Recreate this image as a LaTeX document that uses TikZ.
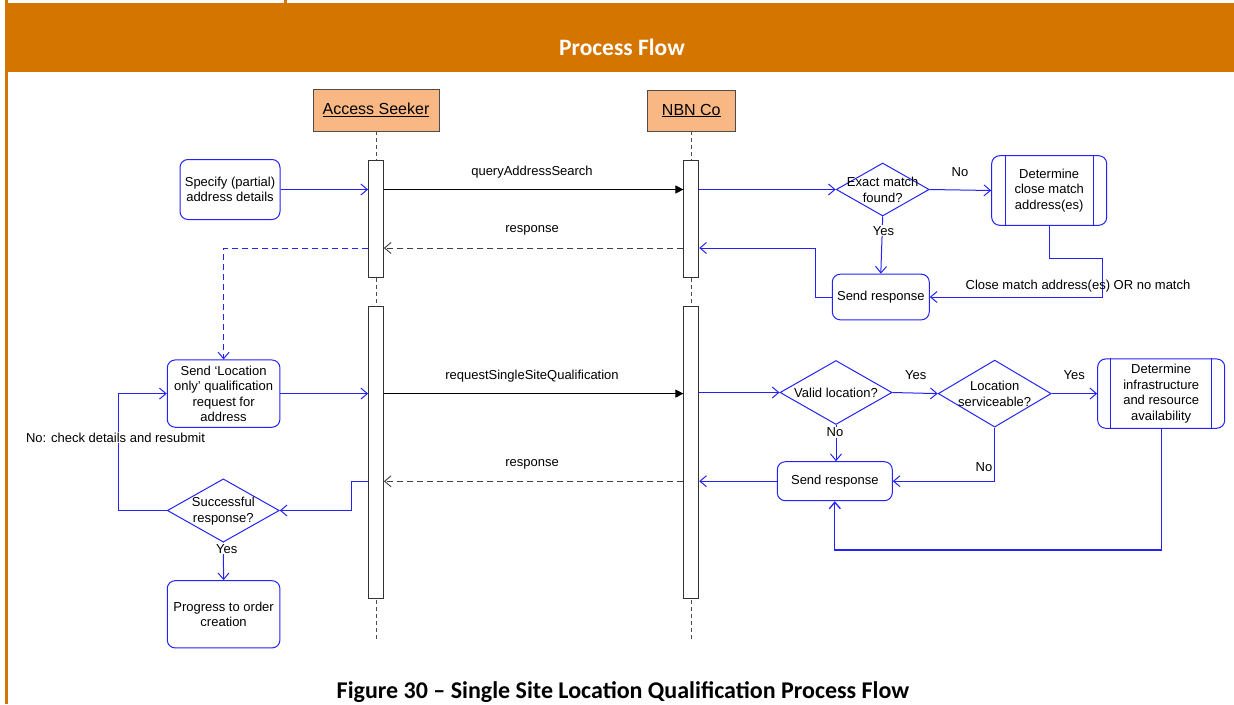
\documentclass[tikz,border=0pt]{standalone}
\usepackage{fontspec}
\setmainfont{Liberation Sans}
\newfontfamily\calfont{Carlito}
\usetikzlibrary{arrows.meta,shapes.geometric,calc}
\definecolor{band}{RGB}{212,117,0}
\definecolor{hdr}{RGB}{249,184,131}
\definecolor{blu}{RGB}{35,35,245}
\begin{document}
\begin{tikzpicture}[x=1pt,y=-1pt,
  lbl/.style={font=\fontsize{13}{15.5}\selectfont, inner sep=1pt, align=center},
  wlbl/.style={lbl, fill=white},
  hd/.style={draw=black!70, fill=hdr, minimum width=126pt, minimum height=42pt, inner sep=0pt, line width=0.9pt, font=\fontsize{16}{18}\selectfont},
  act/.style={draw=black!80, fill=white, minimum width=15pt, inner sep=0pt, line width=0.8pt},
  life/.style={draw=black!70, line width=0.8pt, dash pattern=on 4pt off 3pt},
  rbox/.style={draw=blu, fill=white, rounded corners=8pt, line width=1pt, inner sep=2pt, align=center, font=\fontsize{13}{15.5}\selectfont},
  dia/.style={diamond, draw=blu, line width=1pt, inner sep=0pt},
  barr/.style={draw=blu, line width=1pt, -{Straight Barb[length=6.5pt,width=11pt]}},
  bplain/.style={draw=blu, line width=1pt},
  bdash/.style={barr, dash pattern=on 6pt off 4pt},
  msg/.style={draw=black, line width=0.9pt, -{Triangle[length=8pt,width=8pt]}},
  resp/.style={draw=black!75, line width=0.9pt, dash pattern=on 6pt off 4pt, -{Straight Barb[length=6.5pt,width=11pt]}}
]
\useasboundingbox (0,0) rectangle (1234,704);
% frame
\fill[band] (5,3) rectangle (1234,71.7);
\fill[band] (5,0) rectangle (7.6,704);
\fill[band] (284,0) rectangle (287,3);
\node[font=\calfont\bfseries\fontsize{23.5}{26}\selectfont, text=white] (title) at (622,47) {Process Flow};
\node[font=\calfont\bfseries\fontsize{24}{26}\selectfont] (cap) at (623,692) {Figure 30 – Single Site Location Qualification Process Flow};

% headers and lifelines
\node[hd] (as) at (376,110) {\underline{Access Seeker}};
\node[hd, minimum width=87.6pt, minimum height=41pt] (nb) at (691.3,110.5) {\underline{NBN Co}};
\coordinate (asEnd) at (376,642);
\coordinate (nbEnd) at (691.3,642);
\draw[life] (as.south) -- (asEnd);
\draw[life] (nb.south) -- (nbEnd);
\node[act, minimum height=117pt] (as1) at (376,218.5) {};
\node[act, minimum height=292pt] (as2) at (376,452) {};
\node[act, minimum height=117pt] (nb1) at (691.3,218.5) {};
\node[act, minimum height=292pt] (nb2) at (691.3,452) {};

\coordinate (r1) at (0,248);
\coordinate (r2) at (0,481.3);
\coordinate (yB) at (0,550);

% upper part
\node[rbox, minimum width=100pt, minimum height=60pt] (sp) at (230,189.5) {Specify (partial)\\address details};
\node[dia, minimum width=93pt, minimum height=53pt] (ex) at (882.7,189.5) {};
\node[lbl] (ext) at (882.7,190) {Exact match\\found?};
\node[rbox, minimum width=115pt, minimum height=69.6pt] (dc) at (1049.2,190.5) {Determine\\close match\\address(es)};
\draw[bplain] ([xshift=13.8pt]dc.north west) -- ([xshift=13.8pt]dc.south west);
\draw[bplain] ([xshift=-13.4pt]dc.north east) -- ([xshift=-13.4pt]dc.south east);
\node[rbox, minimum width=97pt, minimum height=45.7pt] (st) at (880.8,297) {Send response};

\draw[barr] (sp.east) -- (sp.east -| as1.west);
\draw[msg] (as1.east |- sp.east) -- (nb1.west |- sp.east);
\node[lbl] (q1) at (532,172) {queryAddressSearch};
\draw[barr] (nb1.east |- ex.west) -- (ex.west);
\draw[barr] (ex.east) -- (dc.west);
\node[lbl] (no1) at (960,172.3) {No};
\draw[barr] (ex.south) -- (st.north);
\node[wlbl] (yes1) at (883.5,230.7) {Yes};
\draw[barr] (dc.south) |- (1102.7,258) |- (st.east);
\node[lbl] (cm) at (1078,285.7) {Close match address(es) OR no match};
\draw[barr] (st.west) -| (815.7,248) -- (nb1.east |- r1);
\draw[resp] (nb1.west |- r1) -- (as1.east |- r1);
\node[lbl] (rs1) at (532,230.3) {response};

% lower part
\node[rbox, minimum width=112.7pt, minimum height=67.3pt] (sl) at (223.6,393.6) {Send ‘Location\\only’ qualification\\request for\\address};
\draw[bdash] (as1.west |- r1) -| (sl.north);
\draw[barr] (sl.east) -- (sl.east -| as2.west);
\draw[msg] (as2.east |- sl.east) -- (nb2.west |- sl.east);
\node[lbl] (q2) at (532,376) {requestSingleSiteQualification};

\node[dia, minimum width=112pt, minimum height=64pt] (vl) at (836,392.5) {};
\node[lbl] (vlt) at (836,393) {Valid location?};
\node[dia, minimum width=113pt, minimum height=67pt] (ls) at (994.7,393.6) {};
\node[lbl] (lst) at (994.7,393.6) {Location\\serviceable?};
\node[rbox, minimum width=127pt, minimum height=69.3pt] (ib) at (1161.2,393.6) {Determine\\infrastructure\\and resource\\availability};
\draw[bplain] ([xshift=13.6pt]ib.north west) -- ([xshift=13.6pt]ib.south west);
\draw[bplain] ([xshift=-14pt]ib.north east) -- ([xshift=-14pt]ib.south east);
\node[rbox, minimum width=115pt, minimum height=39pt] (sr) at (834.8,481.2) {Send response};

\draw[barr] (nb2.east |- vl.west) -- (vl.west);
\draw[barr] (vl.east) -- (ls.west);
\node[lbl] (yes2) at (915.7,375) {Yes};
\draw[barr] (ls.east) -- (ib.west);
\node[lbl] (yes3) at (1074.3,375) {Yes};
\draw[barr] (vl.south) -- (vl.south |- sr.north);
\node[wlbl] (no2) at (835,432.3) {No};
\draw[barr] (ls.south) |- (sr.east);
\node[lbl] (no3) at (984,466.7) {No};
\draw[barr, line width=1.3pt] (ib.south) |- (sr.south |- yB) -- (sr.south);
\draw[barr] (sr.west) -- (nb2.east |- sr.west);
\draw[resp] (nb2.west |- r2) -- (as2.east |- r2);
\node[lbl] (rs2) at (532,464) {response};

\node[dia, minimum width=112pt, minimum height=63.3pt] (su) at (223.3,510.5) {};
\node[lbl] (sut) at (223.3,511) {Successful\\response?};
\node[rbox, minimum width=112.7pt, minimum height=67.3pt] (pr) at (223.6,614.3) {Progress to order\\creation};
\draw[barr] (as2.west |- r2) -| (351,510.5) -- (su.east);
\draw[barr] (su.west) -| (118.7,393.6) -- (sl.west);
\node[wlbl] (nck) at (115.5,437.7) {No: check details and resubmit};
\draw[barr] (su.south) -- (pr.north);
\node[wlbl] (yes4) at (226.7,548.7) {Yes};
\end{tikzpicture}
\end{document}
